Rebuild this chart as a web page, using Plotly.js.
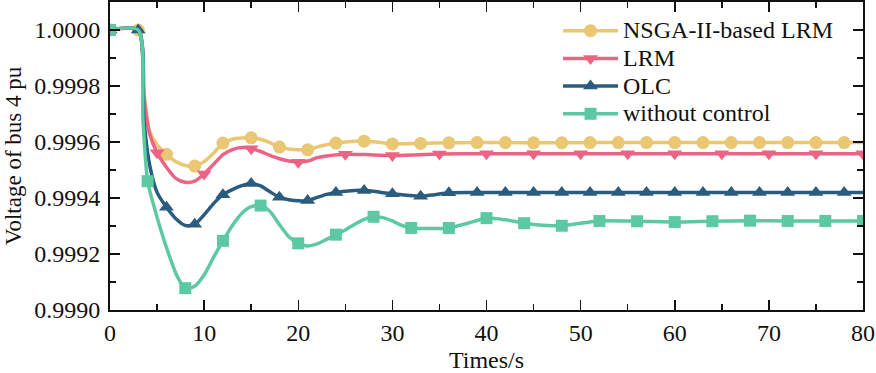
<!DOCTYPE html>
<html>
<head>
<meta charset="utf-8">
<script src="https://cdn.plot.ly/plotly-3.0.1.min.js"></script>
<style>
html,body{margin:0;padding:0;background:#fff;}
#chart{width:876px;height:373px;}
</style>
</head>
<body>
<div id="chart"></div>
<script>
// ---- data ----
const seriesNames = ["NSGA-II-based LRM", "LRM", "OLC", "without control"];

// NSGA-II-based LRM (curve points)
const nsgaT = [0, 3, 3.6, 4.2, 5, 6, 7, 8, 9, 10, 11, 12, 13, 14, 15, 16, 17, 18, 19, 20, 21, 22, 23, 24, 25, 26, 27, 28, 29, 30, 33, 36, 39, 42, 45, 48, 51, 54, 57, 60, 63, 66, 69, 72, 75, 78, 80];
const nsgaV = [1.0, 1.0, 0.99978, 0.99964, 0.99959, 0.999556, 0.99953, 0.999516, 0.999514, 0.99953, 0.99956, 0.999596, 0.99961, 0.999614, 0.999615, 0.99961, 0.999598, 0.999582, 0.999575, 0.999572, 0.999572, 0.999582, 0.99959, 0.999596, 0.9996, 0.999603, 0.999603, 0.999601, 0.999597, 0.999593, 0.999595, 0.999597, 0.999598, 0.999598, 0.999597, 0.999597, 0.999598, 0.999598, 0.999598, 0.999598, 0.999598, 0.999598, 0.999598, 0.999598, 0.999598, 0.999598, 0.999598];
const nsgaMarkT = [0, 3, 6, 9, 12, 15, 18, 21, 24, 27, 30, 33, 36, 39, 42, 45, 48, 51, 54, 57, 60, 63, 66, 69, 72, 75, 78];

// LRM
const lrmT = [0, 3, 3.6, 4.2, 5, 6, 7, 8, 9, 10, 11, 12, 13, 14, 15, 16, 17, 18, 19, 20, 21, 22, 23, 24, 25, 27, 30, 35, 40, 45, 50, 55, 60, 65, 70, 75, 80];
const lrmV = [1.0, 1.0, 0.99976, 0.99963, 0.999562, 0.99951, 0.99947, 0.999456, 0.99946, 0.999486, 0.99952, 0.999555, 0.999573, 0.99958, 0.999576, 0.999566, 0.999552, 0.99954, 0.999532, 0.999528, 0.999532, 0.999544, 0.99955, 0.999554, 0.999556, 0.999555, 0.999552, 0.999557, 0.999558, 0.999558, 0.999558, 0.999558, 0.999558, 0.999558, 0.999558, 0.999558, 0.999558];
const lrmMarkT = [0, 5, 10, 15, 20, 25, 30, 35, 40, 45, 50, 55, 60, 65, 70, 75, 80];

// OLC
const olcT = [0, 3, 3.6, 4.2, 5, 6, 7, 8, 9, 10, 11, 12, 13, 14, 15, 16, 17, 18, 19, 20, 21, 22, 23, 24, 25, 26, 27, 28, 29, 30, 31.5, 33, 34.5, 36, 39, 42, 45, 48, 51, 54, 57, 60, 63, 66, 69, 72, 75, 78, 80];
const olcV = [1.0, 1.0, 0.99968, 0.99952, 0.99942, 0.999367, 0.999326, 0.999302, 0.999306, 0.99934, 0.99938, 0.999412, 0.99943, 0.999444, 0.999452, 0.999443, 0.999422, 0.999403, 0.999394, 0.99939, 0.999391, 0.999402, 0.999413, 0.99942, 0.999424, 0.999427, 0.999427, 0.999424, 0.999419, 0.999415, 0.99941, 0.999406, 0.999412, 0.999419, 0.99942, 0.99942, 0.99942, 0.99942, 0.99942, 0.99942, 0.99942, 0.99942, 0.99942, 0.99942, 0.99942, 0.99942, 0.99942, 0.99942, 0.99942];
const olcMarkT = [0, 3, 6, 9, 12, 15, 18, 21, 24, 27, 30, 33, 36, 39, 42, 45, 48, 51, 54, 57, 60, 63, 66, 69, 72, 75, 78];

// without control
const noneT = [0, 3, 3.5, 4, 4.8, 6, 7.2, 8, 9, 10, 11, 12, 13, 14, 15, 16, 17, 18, 19, 20, 21, 22, 23, 24, 25, 26, 27, 28, 29, 30, 31, 32, 34, 36, 38, 40, 42, 44, 46, 48, 50, 52, 56, 60, 64, 68, 72, 76, 80];
const noneV = [1.0, 1.0, 0.99968, 0.99946, 0.999355, 0.999223, 0.999116, 0.999078, 0.999085, 0.999125, 0.999188, 0.999247, 0.999302, 0.999345, 0.999369, 0.999373, 0.999352, 0.999305, 0.999262, 0.999238, 0.999229, 0.999236, 0.999252, 0.999269, 0.999286, 0.999306, 0.999324, 0.999333, 0.99933, 0.999318, 0.999302, 0.999293, 0.999291, 0.999293, 0.99931, 0.999328, 0.999322, 0.99931, 0.999303, 0.999301, 0.99931, 0.999318, 0.999317, 0.999314, 0.999317, 0.999319, 0.999318, 0.999318, 0.999318];
const noneMarkT = [0, 4, 8, 12, 16, 20, 24, 28, 32, 36, 40, 44, 48, 52, 56, 60, 64, 68, 72, 76, 80];

const xTickVals = [0, 10, 20, 30, 40, 50, 60, 70, 80];
const yTickVals = [0.9990, 0.9992, 0.9994, 0.9996, 0.9998, 1.0000];
const yTickText = ["0.9990", "0.9992", "0.9994", "0.9996", "0.9998", "1.0000"];

// ---- build traces ----
const colors = ["#E9C773", "#EC6383", "#2A5C80", "#5CC9A2"];
const symbols = ["circle", "triangle-down", "triangle-up", "square"];
const msizes = [13, 13, 13, 12];
const lineT = [nsgaT, lrmT, olcT, noneT];
const lineV = [nsgaV, lrmV, olcV, noneV];
const markT = [nsgaMarkT, lrmMarkT, olcMarkT, noneMarkT];

function pick(ts, vs, wanted) {
  const xs = [], ys = [];
  wanted.forEach(w => {
    const i = ts.indexOf(w);
    if (i >= 0) { xs.push(ts[i]); ys.push(vs[i]); }
  });
  return {xs, ys};
}

const lineTraces = [], markTraces = [], legendTraces = [];
for (let k = 0; k < 4; k++) {
  lineTraces.push({
    x: lineT[k], y: lineV[k], type: "scatter", mode: "lines",
    line: {color: colors[k], width: 3.5, shape: "spline", smoothing: 0.7},
    showlegend: false, hoverinfo: "skip"
  });
  const p = pick(lineT[k], lineV[k], markT[k]);
  markTraces.push({
    x: p.xs, y: p.ys, type: "scatter", mode: "markers",
    marker: {color: colors[k], symbol: symbols[k], size: msizes[k]},
    showlegend: false, cliponaxis: true
  });
  legendTraces.push({
    x: [null], y: [null], type: "scatter", mode: "lines+markers",
    name: '<span style="font-size:24px">' + seriesNames[k] + '</span>',
    line: {color: colors[k], width: 3.5},
    marker: {color: colors[k], symbol: symbols[k], size: msizes[k]}
  });
}
const data = [];
for (let k = 0; k < 4; k++) { data.push(lineTraces[k]); data.push(markTraces[k]); }
legendTraces.forEach(t => data.push(t));

const font = "'Liberation Serif', 'Times New Roman', serif";
const layout = {
  width: 876, height: 373,
  margin: {l: 110, r: 13, t: 2, b: 63},
  paper_bgcolor: "#fff", plot_bgcolor: "#fff",
  font: {family: font, size: 22, color: "#111"},
  showlegend: true,
  legend: {x: 0.595, y: 0.968, xanchor: "left", yanchor: "top", bgcolor: "rgba(0,0,0,0)",
           itemwidth: 55,
           font: {family: font, size: 19, color: "#111"}, tracegroupgap: 0},
  xaxis: {
    range: [0, 80], tickvals: xTickVals, ticktext: xTickVals.map(String),
    ticks: "inside", ticklen: 10, tickwidth: 1.5, tickcolor: "#111",
    minor: {dtick: 5, tick0: 0, ticks: "inside", ticklen: 6, tickwidth: 1.5, tickcolor: "#111", showgrid: false},
    showline: true, linecolor: "#111", linewidth: 2, mirror: "ticks",
    showgrid: false, zeroline: false,
    tickfont: {family: font, size: 24, color: "#111"},
    title: {text: "Times/s", font: {family: font, size: 24, color: "#111"}, standoff: 18}
  },
  yaxis: {
    range: [0.999, 1.0001], tickvals: yTickVals, ticktext: yTickText,
    ticks: "inside", ticklen: 10, tickwidth: 1.5, tickcolor: "#111",
    minor: {dtick: 0.0001, tick0: 0.999, ticks: "inside", ticklen: 6, tickwidth: 1.5, tickcolor: "#111", showgrid: false},
    showline: true, linecolor: "#111", linewidth: 2, mirror: "ticks",
    showgrid: false, zeroline: false, ticklabelstandoff: 3,
    tickfont: {family: font, size: 24, color: "#111"},
    title: {text: "Voltage of bus 4 pu", font: {family: font, size: 23, color: "#111"}, standoff: 6}
  }
};

Plotly.newPlot("chart", data, layout, {staticPlot: true, displayModeBar: false});
</script>
</body>
</html>
